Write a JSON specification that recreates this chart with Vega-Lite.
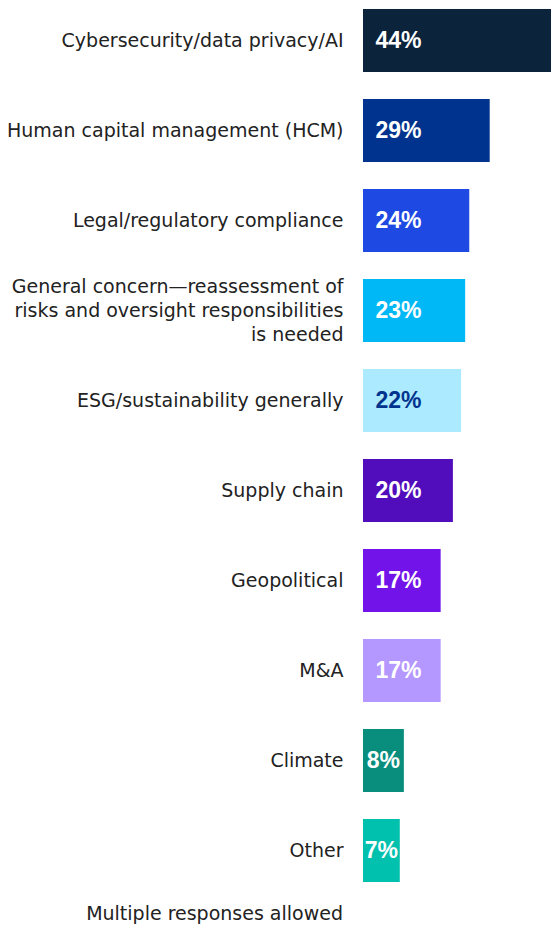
{
  "$schema": "https://vega.github.io/schema/vega-lite/v6.json",
  "autosize": "none",
  "width": 188,
  "height": 891,
  "padding": {"left": 363, "top": 0, "right": 0, "bottom": 34},
  "background": "white",
  "config": {"view": {"stroke": null}},
  "title": {
    "text": "Multiple responses allowed",
    "orient": "bottom",
    "anchor": "start",
    "frame": "group",
    "align": "right",
    "baseline": "alphabetic",
    "dx": -20,
    "offset": 29,
    "font": "DejaVu Sans",
    "fontSize": 19,
    "fontWeight": "normal",
    "color": "#222222"
  },
  "data": {
    "values": [
      {"category": "Cybersecurity/data privacy/AI", "pct": 0.44},
      {"category": "Human capital management (HCM)", "pct": 0.29},
      {"category": "Legal/regulatory compliance", "pct": 0.24},
      {"category": "General concern—reassessment of risks and oversight responsibilities is needed", "pct": 0.23},
      {"category": "ESG/sustainability generally", "pct": 0.22},
      {"category": "Supply chain", "pct": 0.20},
      {"category": "Geopolitical", "pct": 0.17},
      {"category": "M&A", "pct": 0.17},
      {"category": "Climate", "pct": 0.08},
      {"category": "Other", "pct": 0.07}
    ]
  },
  "encoding": {
    "y": {
      "field": "category",
      "type": "nominal",
      "sort": null,
      "scale": {"paddingInner": 0.3, "paddingOuter": 0.1},
      "axis": {
        "title": null,
        "domain": false,
        "ticks": false,
        "labelPadding": 20,
        "labelFont": "DejaVu Sans",
        "labelFontSize": 19,
        "labelColor": "#222222",
        "labelLimit": 0,
        "labelLineHeight": 24,
        "labelOffset": {"condition": {"test": "datum.value == 'General concern—reassessment of risks and oversight responsibilities is needed'", "value": -24}, "value": 0},
        "labelExpr": "datum.value == 'General concern—reassessment of risks and oversight responsibilities is needed' ? ['General concern—reassessment of', 'risks and oversight responsibilities', 'is needed'] : datum.value"
      }
    }
  },
  "layer": [
    {
      "mark": {"type": "bar"},
      "encoding": {
        "x": {"field": "pct", "type": "quantitative", "scale": {"domain": [-0.02, 0.44], "nice": false, "zero": false}, "axis": null},
        "x2": {"datum": -0.02},
        "color": {
          "field": "category",
          "type": "nominal",
          "legend": null,
          "scale": {
            "domain": [
              "Cybersecurity/data privacy/AI",
              "Human capital management (HCM)",
              "Legal/regulatory compliance",
              "General concern—reassessment of risks and oversight responsibilities is needed",
              "ESG/sustainability generally",
              "Supply chain",
              "Geopolitical",
              "M&A",
              "Climate",
              "Other"
            ],
            "range": ["#0C233C", "#00338D", "#1E49E2", "#00B8F5", "#ACEAFF", "#510DBC", "#7213EA", "#B497FF", "#098E7E", "#00C0AE"]
          }
        }
      }
    },
    {
      "transform": [{"calculate": "(min(datum.pct, 0.154) - 0.02) / 2", "as": "labelPos"}],
      "mark": {"type": "text", "align": "center", "baseline": "middle", "font": "Liberation Sans", "fontSize": 23, "fontWeight": "bold"},
      "encoding": {
        "x": {"field": "labelPos", "type": "quantitative"},
        "text": {"field": "pct", "type": "quantitative", "format": ".0%"},
        "color": {
          "condition": {"test": "datum.category == 'ESG/sustainability generally'", "value": "#00338D"},
          "value": "#FFFFFF"
        }
      }
    }
  ]
}
